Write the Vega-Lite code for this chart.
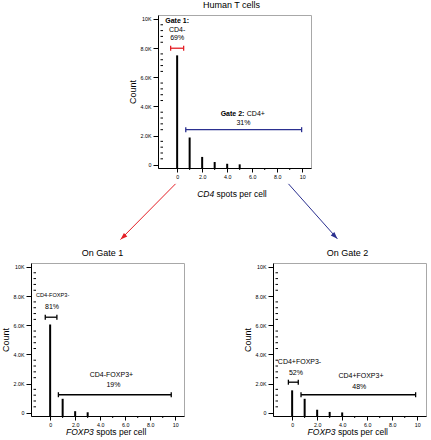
{
  "$schema": "https://vega.github.io/schema/vega-lite/v6.json",
  "padding": 0,
  "background": "white",
  "config": {
    "font": "Liberation Sans",
    "view": {"stroke": "#a8a8a8", "strokeWidth": 1},
    "axis": {"domainColor": "#000", "tickColor": "#000", "labelColor": "#000", "titleColor": "#000", "labelFontSize": 5.3, "titleFontSize": 9, "titleFontWeight": "normal", "grid": false, "labelOverlap": false, "labelFlush": false, "labelBound": false, "domainWidth": 1, "tickWidth": 1, "tickCount": 30},
    "title": {"fontSize": 9, "fontWeight": "normal", "color": "#000", "offset": 5, "frame": "group"}
  },
  "datasets": {
    "cd4": [{"spots": 0, "count": 7500}, {"spots": 1, "count": 1870}, {"spots": 2, "count": 530}, {"spots": 3, "count": 180}, {"spots": 4, "count": 60}, {"spots": 5, "count": 20}],
    "foxp3_g1": [{"spots": 0, "count": 6050}, {"spots": 1, "count": 950}, {"spots": 2, "count": 100}, {"spots": 3, "count": 25}],
    "foxp3_g2": [{"spots": 0, "count": 1530}, {"spots": 1, "count": 950}, {"spots": 2, "count": 200}, {"spots": 3, "count": 50}, {"spots": 4, "count": 15}],
    "gates_cd4": [{"gate": "Gate 1", "from": -0.52, "to": 0.52, "level": 7990}, {"gate": "Gate 2", "from": 0.69, "to": 9.95, "level": 2400}],
    "gates_g1": [{"gate": "CD4-FOXP3-", "from": -0.39, "to": 0.54, "level": 6550}, {"gate": "CD4-FOXP3+", "from": 0.66, "to": 9.68, "level": 1230}],
    "gates_g2": [{"gate": "CD4+FOXP3-", "from": -0.3, "to": 0.49, "level": 2090}, {"gate": "CD4+FOXP3+", "from": 0.71, "to": 9.87, "level": 1230}],
    "arrows": [{"gate": "Gate 1", "x0": -0.13, "y0": -1320, "x1": -4.53, "y1": -5140}, {"gate": "Gate 2", "x0": 8.9, "y0": -1320, "x1": 12.81, "y1": -5090}],
    "minor_y": [{"v": 400}, {"v": 800}, {"v": 1200}, {"v": 1600}, {"v": 2400}, {"v": 2800}, {"v": 3200}, {"v": 3600}, {"v": 4400}, {"v": 4800}, {"v": 5200}, {"v": 5600}, {"v": 6400}, {"v": 6800}, {"v": 7200}, {"v": 7600}, {"v": 8400}, {"v": 8800}, {"v": 9200}, {"v": 9600}],
    "minor_x": [{"v": 1}, {"v": 3}, {"v": 5}, {"v": 7}, {"v": 9}]
  },
  "spacing": 7,
  "vconcat": [
    {
      "bounds": "flush",
      "spacing": 0,
      "hconcat": [
        {"width": 126.8, "height": 153, "view": {"stroke": null}, "data": {"values": []}, "mark": "point", "encoding": {}},
        {
          "width": 153, "height": 153,
          "title": {"text": "Human T cells", "dx": -3},
          "layer": [
            {"data": {"name": "cd4"}, "mark": {"type": "bar", "size": 2, "color": "#000"},
             "encoding": {
               "x": {"field": "spots", "type": "quantitative", "scale": {"domain": [-1.13, 10.3], "nice": false, "zero": false},
                     "axis": {"title": null, "values": [0, 2, 4, 6, 8, 10], "tickCount": 30, "labelOverlap": false, "labelExpr": "datum.value === 0 ? '0' : datum.value === 10 ? '10' : format(datum.value, '.1f')", "tickSize": 4, "labelPadding": 2}},
               "y": {"field": "count", "type": "quantitative", "scale": {"domain": [-230, 10270], "nice": false, "zero": false},
                     "axis": {"title": "Count", "values": [0, 2000, 4000, 6000, 8000, 10000], "tickCount": 30, "labelOverlap": false, "labelExpr": "datum.value === 0 ? '0' : datum.value === 10000 ? '10K' : format(datum.value / 1000, '.1f') + 'K'", "tickSize": 5, "labelPadding": 2, "titlePadding": 3}},
               "y2": {"datum": -230}}},
            {"data": {"name": "minor_y"}, "mark": {"type": "tick", "orient": "horizontal", "size": 2.5, "thickness": 1, "color": "#000", "opacity": 1, "xOffset": -1.25},
             "encoding": {"x": {"datum": -1.13, "type": "quantitative"}, "y": {"field": "v", "type": "quantitative"}}},
            {"data": {"name": "minor_x"}, "mark": {"type": "tick", "orient": "vertical", "size": 2, "thickness": 1, "color": "#000", "opacity": 1, "yOffset": 1},
             "encoding": {"x": {"field": "v", "type": "quantitative"}, "y": {"datum": -230, "type": "quantitative"}}},
            {"data": {"name": "gates_cd4"}, "mark": {"type": "rule", "strokeWidth": 1.3},
             "encoding": {"x": {"field": "from", "type": "quantitative"}, "x2": {"field": "to"}, "y": {"field": "level", "type": "quantitative"},
                          "color": {"field": "gate", "type": "nominal", "scale": {"domain": ["Gate 1", "Gate 2"], "range": ["#e41f26", "#2b3090"]}, "legend": null}}},
            {"data": {"name": "gates_cd4"}, "mark": {"type": "tick", "orient": "vertical", "size": 5, "thickness": 1.3, "opacity": 1},
             "encoding": {"x": {"field": "from", "type": "quantitative"}, "y": {"field": "level", "type": "quantitative"},
                          "color": {"field": "gate", "type": "nominal", "scale": {"domain": ["Gate 1", "Gate 2"], "range": ["#e41f26", "#2b3090"]}, "legend": null}}},
            {"data": {"name": "gates_cd4"}, "mark": {"type": "tick", "orient": "vertical", "size": 5, "thickness": 1.3, "opacity": 1},
             "encoding": {"x": {"field": "to", "type": "quantitative"}, "y": {"field": "level", "type": "quantitative"},
                          "color": {"field": "gate", "type": "nominal", "scale": {"domain": ["Gate 1", "Gate 2"], "range": ["#e41f26", "#2b3090"]}, "legend": null}}},
            {"data": {"name": "arrows"}, "mark": {"type": "rule", "strokeWidth": 1},
             "encoding": {"x": {"field": "x0", "type": "quantitative"}, "y": {"field": "y0", "type": "quantitative"}, "x2": {"field": "x1"}, "y2": {"field": "y1"},
                          "color": {"field": "gate", "type": "nominal", "scale": {"domain": ["Gate 1", "Gate 2"], "range": ["#e41f26", "#2b3090"]}, "legend": null}}},
            {"data": {"name": "arrows"}, "mark": {"type": "point", "shape": "M0,0L0.7,2L-0.7,2Z", "size": 50, "filled": true, "opacity": 1},
             "encoding": {"x": {"field": "x1", "type": "quantitative"}, "y": {"field": "y1", "type": "quantitative"},
                          "angle": {"field": "gate", "type": "nominal", "scale": {"domain": ["Gate 1", "Gate 2"], "range": [226.7, 136.5]}, "legend": null},
                          "color": {"field": "gate", "type": "nominal", "scale": {"domain": ["Gate 1", "Gate 2"], "range": ["#e41f26", "#2b3090"]}, "legend": null}}},
            {"data": {"values": [{"label": "CD4-", "spots": 0, "count": 9250}, {"label": "69%", "spots": 0, "count": 8680}, {"label": "31%", "spots": 5.3, "count": 2880}]},
             "mark": {"type": "text", "fontSize": 7, "align": "center", "baseline": "middle", "color": "#000"},
             "encoding": {"x": {"field": "spots", "type": "quantitative"}, "y": {"field": "count", "type": "quantitative"}, "text": {"field": "label"}}},
            {"data": {"values": [{"label": "Gate 1:", "spots": 0, "count": 9880}]},
             "mark": {"type": "text", "fontSize": 7, "fontWeight": "bold", "align": "center", "baseline": "middle", "color": "#000"},
             "encoding": {"x": {"field": "spots", "type": "quantitative"}, "y": {"field": "count", "type": "quantitative"}, "text": {"field": "label"}}},
            {"data": {"values": [{"label": "Gate 2:", "spots": 5.47, "count": 3490}]},
             "mark": {"type": "text", "fontSize": 7, "fontWeight": "bold", "align": "right", "dx": -1.2, "baseline": "middle", "color": "#000"},
             "encoding": {"x": {"field": "spots", "type": "quantitative"}, "y": {"field": "count", "type": "quantitative"}, "text": {"field": "label"}}},
            {"data": {"values": [{"label": "CD4+", "spots": 5.47, "count": 3490}]},
             "mark": {"type": "text", "fontSize": 7, "align": "left", "dx": 1.2, "baseline": "middle", "color": "#000"},
             "encoding": {"x": {"field": "spots", "type": "quantitative"}, "y": {"field": "count", "type": "quantitative"}, "text": {"field": "label"}}},
            {"data": {"values": [{"label": "CD4", "spots": 3.06, "count": -2000}]},
             "mark": {"type": "text", "fontSize": 8.5, "fontStyle": "italic", "align": "right", "dx": -1.2, "baseline": "middle", "color": "#000"},
             "encoding": {"x": {"field": "spots", "type": "quantitative"}, "y": {"field": "count", "type": "quantitative"}, "text": {"field": "label"}}},
            {"data": {"values": [{"label": "spots per cell", "spots": 3.06, "count": -2000}]},
             "mark": {"type": "text", "fontSize": 8.5, "align": "left", "dx": 1.2, "baseline": "middle", "color": "#000"},
             "encoding": {"x": {"field": "spots", "type": "quantitative"}, "y": {"field": "count", "type": "quantitative"}, "text": {"field": "label"}}}
          ]
        }
      ]
    },
    {
      "bounds": "flush",
      "spacing": 89,
      "hconcat": [
        {
          "width": 153, "height": 153,
          "title": {"text": "On Gate 1", "dx": -5},
          "layer": [
            {"data": {"name": "foxp3_g1"}, "mark": {"type": "bar", "size": 2, "color": "#000"},
             "encoding": {
               "x": {"field": "spots", "type": "quantitative", "scale": {"domain": [-1.13, 10.3], "nice": false, "zero": false},
                     "axis": {"title": null, "values": [0, 2, 4, 6, 8, 10], "tickCount": 30, "labelOverlap": false, "labelExpr": "datum.value === 0 ? '0' : datum.value === 10 ? '10' : format(datum.value, '.1f')", "tickSize": 4, "labelPadding": 2}},
               "y": {"field": "count", "type": "quantitative", "scale": {"domain": [-230, 10270], "nice": false, "zero": false},
                     "axis": {"title": "Count", "values": [0, 2000, 4000, 6000, 8000, 10000], "tickCount": 30, "labelOverlap": false, "labelExpr": "datum.value === 0 ? '0' : datum.value === 10000 ? '10K' : format(datum.value / 1000, '.1f') + 'K'", "tickSize": 5, "labelPadding": 2, "titlePadding": 3}},
               "y2": {"datum": -230}}},
            {"data": {"name": "minor_y"}, "mark": {"type": "tick", "orient": "horizontal", "size": 2.5, "thickness": 1, "color": "#000", "opacity": 1, "xOffset": -1.25},
             "encoding": {"x": {"datum": -1.13, "type": "quantitative"}, "y": {"field": "v", "type": "quantitative"}}},
            {"data": {"name": "minor_x"}, "mark": {"type": "tick", "orient": "vertical", "size": 2, "thickness": 1, "color": "#000", "opacity": 1, "yOffset": 1},
             "encoding": {"x": {"field": "v", "type": "quantitative"}, "y": {"datum": -230, "type": "quantitative"}}},
            {"data": {"name": "gates_g1"}, "mark": {"type": "rule", "strokeWidth": 1.3, "color": "#000"},
             "encoding": {"x": {"field": "from", "type": "quantitative"}, "x2": {"field": "to"}, "y": {"field": "level", "type": "quantitative"}}},
            {"data": {"name": "gates_g1"}, "mark": {"type": "tick", "orient": "vertical", "size": 5, "thickness": 1.3, "opacity": 1, "color": "#000"},
             "encoding": {"x": {"field": "from", "type": "quantitative"}, "y": {"field": "level", "type": "quantitative"}}},
            {"data": {"name": "gates_g1"}, "mark": {"type": "tick", "orient": "vertical", "size": 5, "thickness": 1.3, "opacity": 1, "color": "#000"},
             "encoding": {"x": {"field": "to", "type": "quantitative"}, "y": {"field": "level", "type": "quantitative"}}},
            {"data": {"values": [{"label": "81%", "spots": 0.15, "count": 7230}, {"label": "CD4-FOXP3+", "spots": 4.9, "count": 2590}, {"label": "19%", "spots": 5.06, "count": 1890}]},
             "mark": {"type": "text", "fontSize": 7, "align": "center", "baseline": "middle", "color": "#000"},
             "encoding": {"x": {"field": "spots", "type": "quantitative"}, "y": {"field": "count", "type": "quantitative"}, "text": {"field": "label"}}},
            {"data": {"values": [{"label": "CD4-FOXP3-", "spots": 0.2, "count": 8060}]},
             "mark": {"type": "text", "fontSize": 5.6, "align": "center", "baseline": "middle", "color": "#000"},
             "encoding": {"x": {"field": "spots", "type": "quantitative"}, "y": {"field": "count", "type": "quantitative"}, "text": {"field": "label"}}},
            {"data": {"values": [{"label": "FOXP3", "spots": 3.59, "count": -1320}]},
             "mark": {"type": "text", "fontSize": 8.5, "fontStyle": "italic", "align": "right", "dx": -1.2, "baseline": "middle", "color": "#000"},
             "encoding": {"x": {"field": "spots", "type": "quantitative"}, "y": {"field": "count", "type": "quantitative"}, "text": {"field": "label"}}},
            {"data": {"values": [{"label": "spots per cell", "spots": 3.59, "count": -1320}]},
             "mark": {"type": "text", "fontSize": 8.5, "align": "left", "dx": 1.2, "baseline": "middle", "color": "#000"},
             "encoding": {"x": {"field": "spots", "type": "quantitative"}, "y": {"field": "count", "type": "quantitative"}, "text": {"field": "label"}}}
          ]
        },
        {
          "width": 153, "height": 153,
          "title": {"text": "On Gate 2", "dx": -2},
          "layer": [
            {"data": {"name": "foxp3_g2"}, "mark": {"type": "bar", "size": 2, "color": "#000"},
             "encoding": {
               "x": {"field": "spots", "type": "quantitative", "scale": {"domain": [-1.13, 10.3], "nice": false, "zero": false},
                     "axis": {"title": null, "values": [0, 2, 4, 6, 8, 10], "tickCount": 30, "labelOverlap": false, "labelExpr": "datum.value === 0 ? '0' : datum.value === 10 ? '10' : format(datum.value, '.1f')", "tickSize": 4, "labelPadding": 2}},
               "y": {"field": "count", "type": "quantitative", "scale": {"domain": [-230, 10270], "nice": false, "zero": false},
                     "axis": {"title": "Count", "values": [0, 2000, 4000, 6000, 8000, 10000], "tickCount": 30, "labelOverlap": false, "labelExpr": "datum.value === 0 ? '0' : datum.value === 10000 ? '10K' : format(datum.value / 1000, '.1f') + 'K'", "tickSize": 5, "labelPadding": 2, "titlePadding": 3}},
               "y2": {"datum": -230}}},
            {"data": {"name": "minor_y"}, "mark": {"type": "tick", "orient": "horizontal", "size": 2.5, "thickness": 1, "color": "#000", "opacity": 1, "xOffset": -1.25},
             "encoding": {"x": {"datum": -1.13, "type": "quantitative"}, "y": {"field": "v", "type": "quantitative"}}},
            {"data": {"name": "minor_x"}, "mark": {"type": "tick", "orient": "vertical", "size": 2, "thickness": 1, "color": "#000", "opacity": 1, "yOffset": 1},
             "encoding": {"x": {"field": "v", "type": "quantitative"}, "y": {"datum": -230, "type": "quantitative"}}},
            {"data": {"name": "gates_g2"}, "mark": {"type": "rule", "strokeWidth": 1.3, "color": "#000"},
             "encoding": {"x": {"field": "from", "type": "quantitative"}, "x2": {"field": "to"}, "y": {"field": "level", "type": "quantitative"}}},
            {"data": {"name": "gates_g2"}, "mark": {"type": "tick", "orient": "vertical", "size": 5, "thickness": 1.3, "opacity": 1, "color": "#000"},
             "encoding": {"x": {"field": "from", "type": "quantitative"}, "y": {"field": "level", "type": "quantitative"}}},
            {"data": {"name": "gates_g2"}, "mark": {"type": "tick", "orient": "vertical", "size": 5, "thickness": 1.3, "opacity": 1, "color": "#000"},
             "encoding": {"x": {"field": "to", "type": "quantitative"}, "y": {"field": "level", "type": "quantitative"}}},
            {"data": {"values": [{"label": "CD4+FOXP3-", "spots": 0.59, "count": 3500}, {"label": "52%", "spots": 0.3, "count": 2750}, {"label": "CD4+FOXP3+", "spots": 5.5, "count": 2520}, {"label": "48%", "spots": 5.37, "count": 1750}]},
             "mark": {"type": "text", "fontSize": 7, "align": "center", "baseline": "middle", "color": "#000"},
             "encoding": {"x": {"field": "spots", "type": "quantitative"}, "y": {"field": "count", "type": "quantitative"}, "text": {"field": "label"}}},
            {"data": {"values": [{"label": "FOXP3", "spots": 3.56, "count": -1320}]},
             "mark": {"type": "text", "fontSize": 8.5, "fontStyle": "italic", "align": "right", "dx": -1.2, "baseline": "middle", "color": "#000"},
             "encoding": {"x": {"field": "spots", "type": "quantitative"}, "y": {"field": "count", "type": "quantitative"}, "text": {"field": "label"}}},
            {"data": {"values": [{"label": "spots per cell", "spots": 3.56, "count": -1320}]},
             "mark": {"type": "text", "fontSize": 8.5, "align": "left", "dx": 1.2, "baseline": "middle", "color": "#000"},
             "encoding": {"x": {"field": "spots", "type": "quantitative"}, "y": {"field": "count", "type": "quantitative"}, "text": {"field": "label"}}}
          ]
        }
      ]
    }
  ]
}
